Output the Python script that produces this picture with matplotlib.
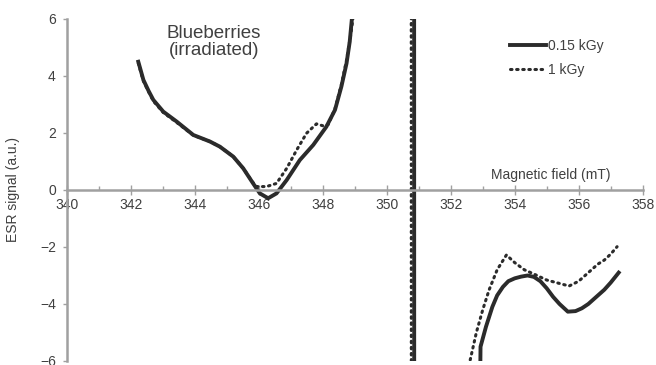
import numpy as np
import matplotlib.pyplot as plt

plt.rcParams['font.family'] = ['Liberation Sans', 'DejaVu Sans']

# 0.15 kGy, values (points above/below +-6 are clipped)
x_low = [342.23, 342.39, 342.55, 342.70, 343.01, 343.43, 343.95, 344.47, 344.78,
         345.20, 345.51, 345.82, 346.03, 346.29, 346.55, 346.87, 347.28, 347.70,
         348.11, 348.38, 348.58, 348.74, 348.84, 348.95, 349.1,
         350.85, 350.86, 352.7, 352.93, 353.1, 353.3, 353.45, 353.63, 353.8,
         354.0, 354.2, 354.4, 354.6, 354.8, 355.0, 355.2, 355.4, 355.66,
         355.9, 356.1, 356.3, 356.5, 356.8, 357.0, 357.25]
y_low = [4.50, 3.86, 3.48, 3.16, 2.75, 2.40, 1.93, 1.70, 1.52,
         1.17, 0.76, 0.23, -0.12, -0.29, -0.12, 0.35, 1.05, 1.58,
         2.22, 2.81, 3.63, 4.44, 5.2, 6.5, 30,
         30, -30, -30, -5.5, -4.8, -4.1, -3.7, -3.4, -3.2,
         -3.1, -3.04, -3.0, -3.05, -3.2, -3.45, -3.75, -4.0, -4.27,
         -4.25, -4.15, -4.0, -3.8, -3.5, -3.25, -2.9]

# 1 kGy
x_high = [342.23, 342.39, 342.55, 342.70, 343.01, 343.43, 343.95, 344.47, 344.78,
          345.20, 345.51, 345.80, 345.93, 346.24, 346.55, 346.87, 347.18, 347.49,
          347.80, 348.01, 348.17, 348.38, 348.58, 348.74, 348.88, 349.0, 349.1,
          350.76, 350.77, 352.4, 352.6, 352.8, 353.0, 353.2, 353.45, 353.74,
          354.0, 354.3, 354.6, 355.0, 355.3, 355.7, 356.0, 356.3, 356.6,
          356.8, 357.0, 357.2]
y_high = [4.45, 3.82, 3.45, 3.12, 2.72, 2.37, 1.92, 1.70, 1.52,
          1.17, 0.76, 0.28, 0.12, 0.12, 0.23, 0.76, 1.40, 1.99,
          2.32, 2.25, 2.30, 2.85, 3.7, 4.55, 5.5, 6.5, 30,
          30, -30, -30, -6.0, -5.0, -4.2, -3.5, -2.8, -2.28,
          -2.55, -2.8, -2.95, -3.16, -3.25, -3.37, -3.2, -2.9, -2.6,
          -2.46, -2.25, -1.99]

x_ticks = np.arange(340, 359, 2)
y_ticks = np.arange(-6, 7, 2)

grey = '#a0a0a0'
txt = '#404040'

fig = plt.figure(figsize=(6.56, 3.65), dpi=100)
ax = fig.add_axes([0.1021, 0.011, 0.8776, 0.937])

ax.plot(x_low, y_low, color='#2b2b2b', lw=2.8, label='0.15 kGy')
ax.plot(x_high, y_high, color='#2b2b2b', lw=2.2, linestyle=(0, (0.5, 1.5)),
        dash_capstyle='round', label='1 kGy')

ax.set_xlim(340, 358)
ax.set_ylim(-6, 6)

for s in ['top', 'right']:
    ax.spines[s].set_visible(False)
ax.spines['bottom'].set_position(('data', 0))
ax.spines['bottom'].set_color(grey)
ax.spines['left'].set_color(grey)
ax.spines['bottom'].set_linewidth(1.8)
ax.spines['left'].set_linewidth(1.8)

ax.set_xticks(x_ticks)
ax.set_xticks(np.arange(341, 358, 2), minor=True)
ax.set_yticks(y_ticks)
ax.tick_params(axis='x', which='major', direction='inout', length=7, width=1,
               color=grey, labelsize=10, labelcolor=txt, pad=2)
ax.tick_params(axis='x', which='minor', direction='in', length=3, width=1,
               color=grey)
ax.tick_params(axis='y', which='major', direction='out', length=3, width=1,
               color=grey, labelsize=10, labelcolor=txt, pad=5)

ax.set_ylabel('ESR signal (a.u.)', fontsize=10, color=txt, labelpad=14)
ax.text(357.0, 0.28, 'Magnetic field (mT)', fontsize=10, color=txt,
        ha='right', va='bottom')
ax.text(344.6, 5.2, 'Blueberries\n(irradiated)', fontsize=13.5, color=txt,
        ha='center', va='center', linespacing=1.0)

leg = ax.legend(loc='upper left', bbox_to_anchor=(0.747, 0.977), frameon=False,
                fontsize=10, handlelength=2.6, handletextpad=0.15,
                labelspacing=0.7)
for t in leg.get_texts():
    t.set_color(txt)

fig.savefig('out.png', dpi=100)
